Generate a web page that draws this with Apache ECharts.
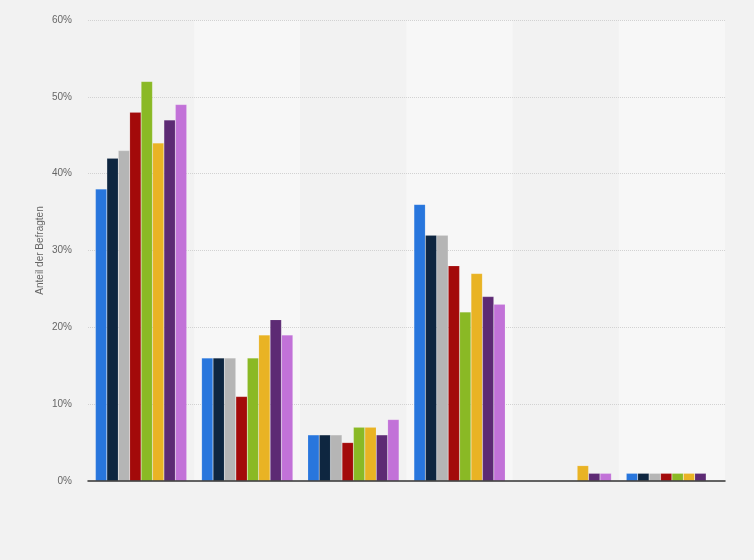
<!DOCTYPE html>
<html><head><meta charset="utf-8">
<script src="https://cdn.jsdelivr.net/npm/echarts@6/dist/echarts.min.js"></script>
<style>html,body{margin:0;padding:0;background:#f2f2f2}#c{width:754px;height:560px}</style>
</head><body><div id="c"></div>
<script>
const categories = ['A','B','C','D','E','F'];
const yTicks = [0,10,20,30,40,50,60];
const s1 = [38,16,6,36,0,1];
const s2 = [42,16,6,32,0,1];
const s3 = [43,16,6,32,0,1];
const s4 = [48,11,5,28,0,1];
const s5 = [52,16,7,22,0,1];
const s6 = [44,19,7,27,2,1];
const s7 = [47,21,6,24,1,1];
const s8 = [49,19,8,23,1,0];
const seriesData = [s1,s2,s3,s4,s5,s6,s7,s8];
const colors = ['#2876dd','#0e2640','#b5b5b5','#a30a0a','#8ab925','#e9b324','#5d2a74','#c272d8'];
const chart = echarts.init(document.getElementById('c'));
chart.setOption({
  backgroundColor:'#f2f2f2',
  animation:false,
  grid:{left:88,right:29,top:20,bottom:79},
  xAxis:[{type:'category',data:categories,z:0,
    axisLine:{show:false},
    axisTick:{show:false},axisLabel:{show:false},
    splitArea:{show:true,areaStyle:{color:['#f2f2f2','#f7f7f7']}}},
    {type:'category',data:categories,position:'bottom',z:5,
    axisLine:{show:true,onZero:false,lineStyle:{color:'#333',width:1.5}},
    axisTick:{show:false},axisLabel:{show:false},splitArea:{show:false},splitLine:{show:false}}],
  yAxis:[{type:'value',min:yTicks[0],max:yTicks[yTicks.length-1],interval:10,z:1,
    name:'Anteil der Befragten',nameLocation:'middle',nameGap:43,nameMoveOverlap:false,
    nameTextStyle:{color:'#666',fontSize:10,fontFamily:'Liberation Sans, Arial'},
    axisLabel:{formatter:'{value}%',color:'#666',fontSize:10,fontFamily:'Liberation Sans, Arial',margin:16},
    axisLine:{show:false},axisTick:{show:false},
    splitLine:{showMinLine:false,lineStyle:{color:'#d2d2d2',type:'dotted',width:1}}}],
  series:seriesData.map((d,i)=>({type:'bar',data:d,barGap:'0%',barCategoryGap:'14%',z:3,
    itemStyle:{color:colors[i],borderColor:'rgba(255,255,255,0.25)',borderWidth:0.5}}))
});
</script></body></html>
